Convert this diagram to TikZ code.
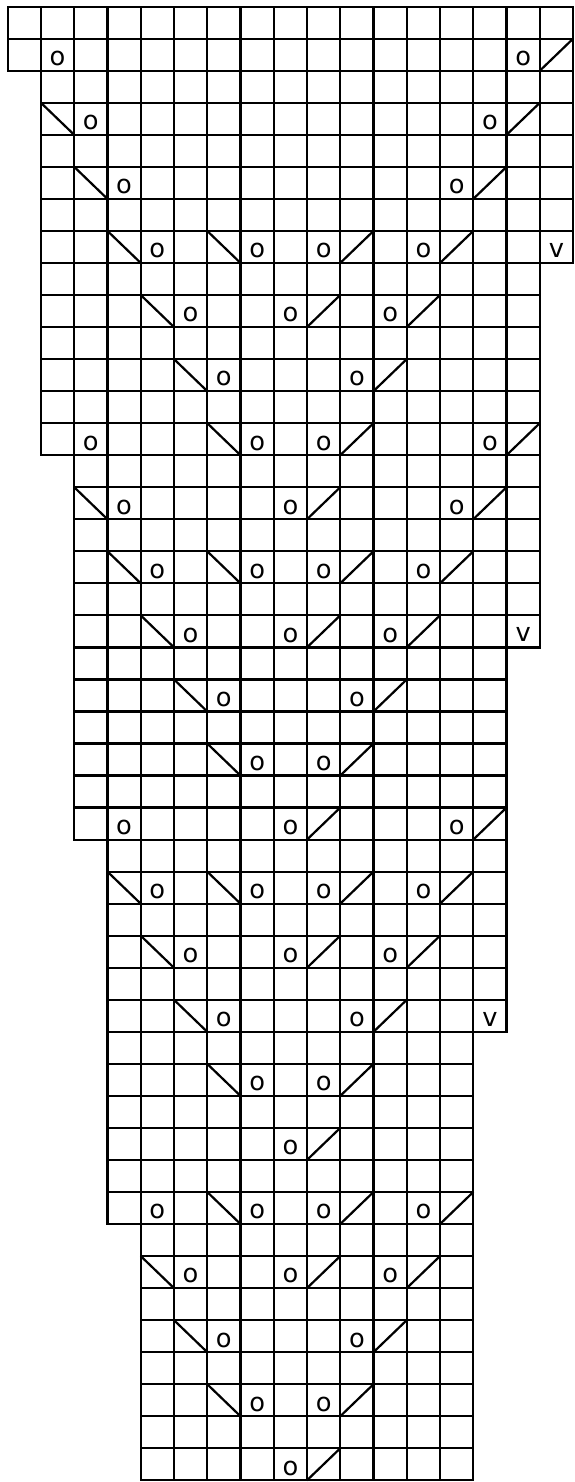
\documentclass[tikz,border=0pt]{standalone}
\usepackage{fontspec}
\setmainfont{DejaVu Sans}
\usepackage{tikz}

\tikzset{
    % Chart styles
    cellbox/.style={
        draw=black,
        line width=1.9pt
    },
    stitchsym/.style={
        inner sep=0pt,
        anchor=base,
        font=\fontsize{22}{22}\selectfont
    },
    decline/.style={
        draw=black,
        line width=1.9pt
    }
}

% Stitch symbols, given as {row}{column}
\newcommand{\yarnover}[2]{\node[stitchsym] (yo-#1-#2) at (#2-0.5,#1-0.16) {o};}
\newcommand{\slipst}[2]{\node[stitchsym] (sl-#1-#2) at (#2-0.5,#1-0.18) {v};}
\newcommand{\sskdec}[2]{\draw[decline] (#2-1,#1-1) -- (#2,#1);}
\newcommand{\ktwotog}[2]{\draw[decline] (#2-1,#1) -- (#2,#1-1);}

\begin{document}
\begin{tikzpicture}[x=1cm, y=-0.9633cm]
    \useasboundingbox (-0.2316,-0.209) rectangle (17.03,46.053);

    % Grid, block by block: first row/last row/first column/last column
    \foreach \ra/\rb/\ca/\cb in {1/2/1/17, 3/8/2/17, 9/14/2/16, 15/20/3/16,
                                  21/26/3/15, 27/32/4/15, 33/38/4/14, 39/46/5/14}
        \foreach \r in {\ra,...,\rb}
            \foreach \c in {\ca,...,\cb}
                \draw[cellbox] (\c-1,\r-1) rectangle (\c,\r);

    % Top edging
    \yarnover{2}{2} \yarnover{2}{16} \ktwotog{2}{17}
    \sskdec{4}{2} \yarnover{4}{3} \yarnover{4}{15} \ktwotog{4}{16}
    \sskdec{6}{3} \yarnover{6}{4} \yarnover{6}{14} \ktwotog{6}{15}
    \sskdec{8}{4} \yarnover{8}{5} \sskdec{8}{7} \yarnover{8}{8} \yarnover{8}{10} \ktwotog{8}{11} \yarnover{8}{13} \ktwotog{8}{14} \slipst{8}{17}
    \sskdec{10}{5} \yarnover{10}{6} \yarnover{10}{9} \ktwotog{10}{10} \yarnover{10}{12} \ktwotog{10}{13}
    \sskdec{12}{6} \yarnover{12}{7} \yarnover{12}{11} \ktwotog{12}{12}

    % Second repeat
    \yarnover{14}{3} \sskdec{14}{7} \yarnover{14}{8} \yarnover{14}{10} \ktwotog{14}{11} \yarnover{14}{15} \ktwotog{14}{16}
    \sskdec{16}{3} \yarnover{16}{4} \yarnover{16}{9} \ktwotog{16}{10} \yarnover{16}{14} \ktwotog{16}{15}
    \sskdec{18}{4} \yarnover{18}{5} \sskdec{18}{7} \yarnover{18}{8} \yarnover{18}{10} \ktwotog{18}{11} \yarnover{18}{13} \ktwotog{18}{14}
    \sskdec{20}{5} \yarnover{20}{6} \yarnover{20}{9} \ktwotog{20}{10} \yarnover{20}{12} \ktwotog{20}{13} \slipst{20}{16}
    \sskdec{22}{6} \yarnover{22}{7} \yarnover{22}{11} \ktwotog{22}{12}
    \sskdec{24}{7} \yarnover{24}{8} \yarnover{24}{10} \ktwotog{24}{11}

    % Third repeat
    \yarnover{26}{4} \yarnover{26}{9} \ktwotog{26}{10} \yarnover{26}{14} \ktwotog{26}{15}
    \sskdec{28}{4} \yarnover{28}{5} \sskdec{28}{7} \yarnover{28}{8} \yarnover{28}{10} \ktwotog{28}{11} \yarnover{28}{13} \ktwotog{28}{14}
    \sskdec{30}{5} \yarnover{30}{6} \yarnover{30}{9} \ktwotog{30}{10} \yarnover{30}{12} \ktwotog{30}{13}
    \sskdec{32}{6} \yarnover{32}{7} \yarnover{32}{11} \ktwotog{32}{12} \slipst{32}{15}
    \sskdec{34}{7} \yarnover{34}{8} \yarnover{34}{10} \ktwotog{34}{11}
    \yarnover{36}{9} \ktwotog{36}{10}

    % Last repeat
    \yarnover{38}{5} \sskdec{38}{7} \yarnover{38}{8} \yarnover{38}{10} \ktwotog{38}{11} \yarnover{38}{13} \ktwotog{38}{14}
    \sskdec{40}{5} \yarnover{40}{6} \yarnover{40}{9} \ktwotog{40}{10} \yarnover{40}{12} \ktwotog{40}{13}
    \sskdec{42}{6} \yarnover{42}{7} \yarnover{42}{11} \ktwotog{42}{12}
    \sskdec{44}{7} \yarnover{44}{8} \yarnover{44}{10} \ktwotog{44}{11}
    \yarnover{46}{9} \ktwotog{46}{10}
\end{tikzpicture}
\end{document}
